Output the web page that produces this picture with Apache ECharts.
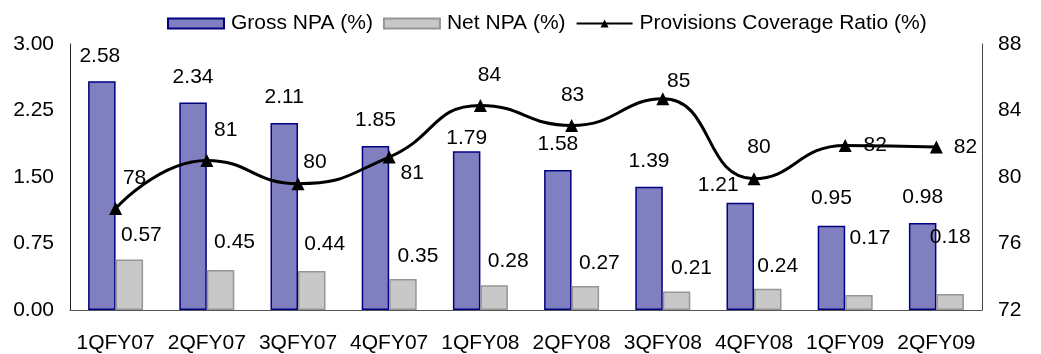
<!DOCTYPE html>
<html>
<head>
<meta charset="utf-8">
<script src="https://cdn.jsdelivr.net/npm/echarts@6/dist/echarts.min.js"></script>
<style>
html,body{margin:0;padding:0;background:#fff;}
#chart{width:1041px;height:354px;}
</style>
</head>
<body>
<div id="chart"></div>
<script>
const categories = ['1QFY07','2QFY07','3QFY07','4QFY07','1QFY08','2QFY08','3QFY08','4QFY08','1QFY09','2QFY09'];
const grossNPA = [2.58, 2.34, 2.11, 1.85, 1.79, 1.58, 1.39, 1.21, 0.95, 0.98];
const netNPA = [0.57, 0.45, 0.44, 0.35, 0.28, 0.27, 0.21, 0.24, 0.17, 0.18];
const coverage = [78.1, 81.0, 79.6, 81.2, 84.3, 83.1, 84.7, 79.9, 81.9, 81.8];
const seriesNames = ['Gross NPA (%)', 'Net NPA (%)', 'Provisions Coverage Ratio (%)'];

// label nudges (style only)
const grossLabelShift = [[-2,0],[0,0],[0,0],[0,0],[0,12],[0,0],[0,0],[-22,8],[0,-2],[0,0]];
const netLabelShift = [[12,0],[14,-3],[13,-2],[15,2],[14,1],[14,2],[15,1],[10,2],[11,-32],[0,-32]];
const lineLabelShift = [[19,-30],[19,-30],[17,-21],[23,16],[9,-30],[1,-30],[16,-18],[5,-31],[30,0],[29,0]];

const FONT = "'Liberation Sans', Arial, sans-serif";
const FS = 21;

const chart = echarts.init(document.getElementById('chart'), null, {renderer:'canvas'});
chart.setOption({
  animation: false,
  backgroundColor: '#ffffff',
  textStyle: {fontFamily: FONT, color: '#000'},
  legend: {
    top: 8,
    left: 162,
    itemWidth: 56,
    itemHeight: 10,
    itemGap: 10,
    textStyle: {fontFamily: FONT, fontSize: FS, color: '#000', padding: [0, 0, 0, 2]},
    data: [
      {name: seriesNames[0], icon: 'rect'},
      {name: seriesNames[1], icon: 'rect'},
      {name: seriesNames[2]}
    ]
  },
  grid: {left: 70, right: 59, top: 44, bottom: 44, containLabel: false},
  xAxis: {
    type: 'category',
    data: categories,
    axisTick: {show: false},
    axisLine: {lineStyle: {color: '#555', width: 1}},
    axisLabel: {fontFamily: FONT, fontSize: FS, color: '#000', margin: 23, interval: 0}
  },
  yAxis: [
    {
      type: 'value', min: 0, max: 3, interval: 0.75,
      splitLine: {show: false},
      axisTick: {show: false},
      axisLine: {show: true, lineStyle: {color: '#222', width: 1}},
      axisLabel: {fontFamily: FONT, fontSize: FS, color: '#000', margin: 16,
        formatter: v => v.toFixed(2)}
    },
    {
      type: 'value', min: 72, max: 88, interval: 4,
      splitLine: {show: false},
      axisTick: {show: false},
      axisLine: {show: true, lineStyle: {color: '#444', width: 1}},
      axisLabel: {fontFamily: FONT, fontSize: FS, color: '#000', margin: 16}
    }
  ],
  series: [
    {
      name: seriesNames[0],
      type: 'bar',
      barWidth: 27.5,
      barGap: '0%',
      itemStyle: {color: '#8080C0', borderColor: '#000080', borderWidth: 1.5},
      label: {show: true, position: 'top', distance: 15, fontFamily: FONT, fontSize: FS, color: '#000',
        formatter: p => p.value.toFixed(2)},
      data: grossNPA.map((v, i) => ({value: v, label: {offset: grossLabelShift[i]}}))
    },
    {
      name: seriesNames[1],
      type: 'bar',
      barWidth: 27.5,
      itemStyle: {color: '#C8C8C8', borderColor: '#969696', borderWidth: 1.5},
      label: {show: true, position: 'top', distance: 14, fontFamily: FONT, fontSize: FS, color: '#000',
        formatter: p => p.value.toFixed(2)},
      data: netNPA.map((v, i) => ({value: v, label: {offset: netLabelShift[i]}}))
    },
    {
      name: seriesNames[2],
      type: 'line',
      yAxisIndex: 1,
      smooth: 0.5,
      symbol: 'triangle',
      symbolSize: 13,
      lineStyle: {color: '#000', width: 3},
      itemStyle: {color: '#000'},
      label: {show: true, position: 'inside', fontFamily: FONT, fontSize: FS, color: '#000',
        formatter: p => String(Math.round(p.value))},
      data: coverage.map((v, i) => ({value: v, label: {offset: lineLabelShift[i]}})),
      z: 5
    }
  ]
});
</script>
</body>
</html>
